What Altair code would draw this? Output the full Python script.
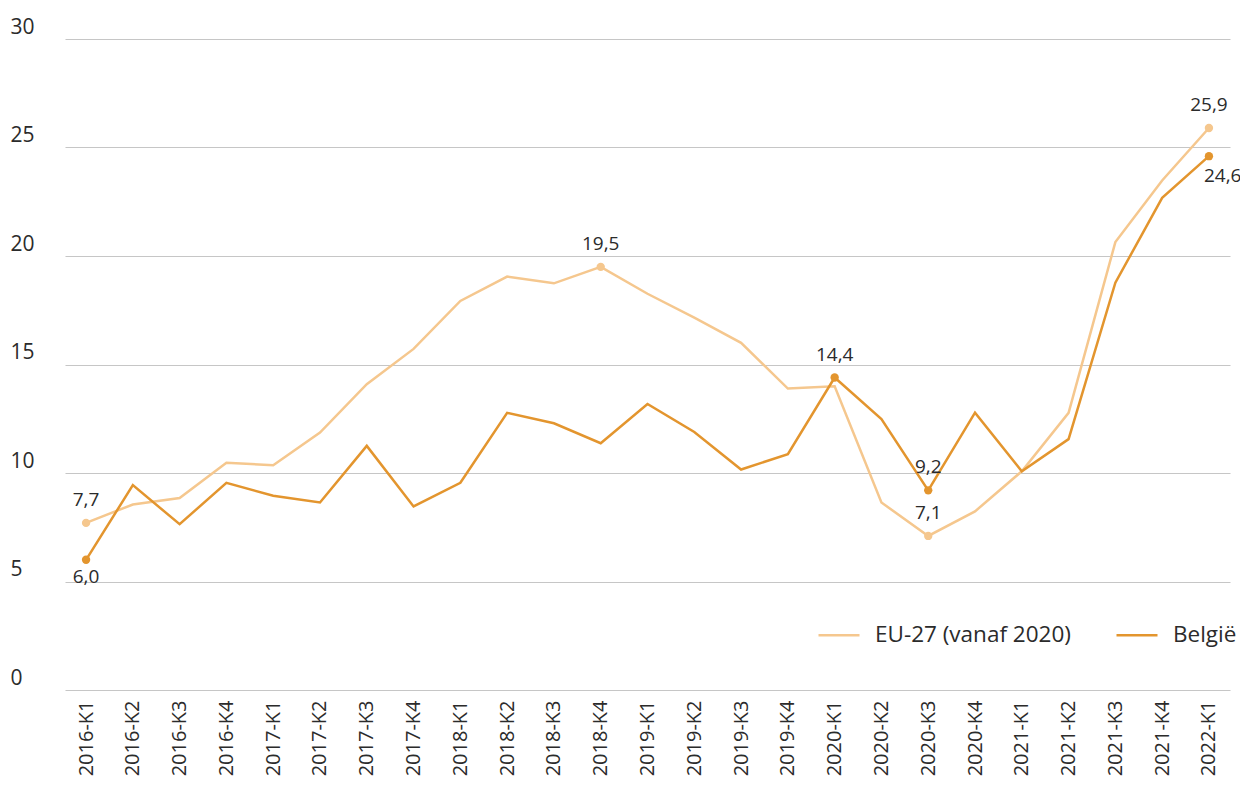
import altair as alt
import pandas as pd

quarters = ["2016-K1", "2016-K2", "2016-K3", "2016-K4",
            "2017-K1", "2017-K2", "2017-K3", "2017-K4",
            "2018-K1", "2018-K2", "2018-K3", "2018-K4",
            "2019-K1", "2019-K2", "2019-K3", "2019-K4",
            "2020-K1", "2020-K2", "2020-K3", "2020-K4",
            "2021-K1", "2021-K2", "2021-K3", "2021-K4",
            "2022-K1"]

eu27 = [7.7, 8.55, 8.85, 10.47, 10.36, 11.86, 14.09, 15.72,
        17.93, 19.05, 18.74, 19.5, 18.26, 17.16, 16.0, 13.89,
        14.0, 8.64, 7.1, 8.23, 10.08, 12.77, 20.64, 23.48,
        25.9]

belgie = [6.0, 9.44, 7.64, 9.55, 8.95, 8.64, 11.25, 8.46,
          9.55, 12.77, 12.29, 11.37, 13.18, 11.89, 10.16, 10.87,
          14.4, 12.48, 9.2, 12.78, 10.08, 11.56, 18.77, 22.68,
          24.6]

series_names = ["EU-27 (vanaf 2020)", "België"]
series_colors = ["#F5C78E", "#E3952E"]

# labelled points: (series, quarter)
labels_above = [("EU-27 (vanaf 2020)", "2016-K1"), ("EU-27 (vanaf 2020)", "2018-K4"),
                ("België", "2020-K1"), ("België", "2020-K3"),
                ("EU-27 (vanaf 2020)", "2020-K3"), ("EU-27 (vanaf 2020)", "2022-K1")]
labels_below = [("België", "2016-K1")]
labels_below_right = [("België", "2022-K1")]

rows = []
for name, vals in zip(series_names, [eu27, belgie]):
    for q, v in zip(quarters, vals):
        grp = ""
        if (name, q) in labels_above:
            grp = "above"
        elif (name, q) in labels_below:
            grp = "below"
        elif (name, q) in labels_below_right:
            grp = "belowright"
        rows.append({"kwartaal": q, "reeks": name, "waarde": v,
                     "label": f"{v:.1f}".replace(".", ","), "grp": grp})
df = pd.DataFrame(rows)

FONT = "Open Sans"
TXT = "#2b2b2b"

x = alt.X("kwartaal:N", sort=quarters, title=None,
          scale=alt.Scale(type="point", padding=0.45),
          axis=alt.Axis(labelAngle=-90, labelFontSize=20, labelFont=FONT,
                        labelColor=TXT, ticks=False, domain=False, grid=False,
                        labelPadding=10))
y = alt.Y("waarde:Q", title=None,
          scale=alt.Scale(domain=[0, 30], nice=False),
          axis=alt.Axis(values=[0, 5, 10, 15, 20, 25, 30], grid=True,
                        gridColor="#c6c6c6", gridWidth=1.2, ticks=False,
                        domain=False, labelAlign="left", labelBaseline="bottom",
                        labelPadding=55, labelFontSize=21, labelFont=FONT,
                        labelColor=TXT, labelOffset=-2))
color = alt.Color("reeks:N",
                  scale=alt.Scale(domain=series_names, range=series_colors),
                  legend=alt.Legend(title=None, orient="none", legendX=752,
                                    legendY=574, direction="horizontal",
                                    symbolType="stroke", symbolSize=1681,
                                    symbolStrokeWidth=2.5, labelFontSize=22.5,
                                    labelFont=FONT, labelColor=TXT,
                                    labelOffset=14, columnPadding=40,
                                    labelLimit=400))

base = alt.Chart(df)

lines = base.mark_line(strokeWidth=2.5).encode(x=x, y=y, color=color,
                                                order=alt.Order("reeks:N"))
points = base.transform_filter("datum.grp != ''").mark_circle(
    size=70, opacity=1).encode(x=x, y=y, color=alt.Color("reeks:N",
                                   scale=alt.Scale(domain=series_names,
                                                   range=series_colors),
                                   legend=None))

txt_above = base.transform_filter("datum.grp == 'above'").mark_text(
    baseline="alphabetic", dy=-17, fontSize=19, font=FONT, color=TXT).encode(
    x=x, y=y, text="label:N")
txt_below = base.transform_filter("datum.grp == 'below'").mark_text(
    baseline="top", dy=8, fontSize=19, font=FONT, color=TXT).encode(
    x=x, y=y, text="label:N")
txt_br = base.transform_filter("datum.grp == 'belowright'").mark_text(
    baseline="top", align="left", dx=-5, dy=11, fontSize=19, font=FONT,
    color=TXT).encode(x=x, y=y, text="label:N")

chart = alt.layer(lines, points, txt_above, txt_below, txt_br).properties(
    width=1165, height=651,
    autosize=alt.AutoSizeParams(type="none"),
    padding={"left": 57, "top": 31, "right": 10, "bottom": 90},
).configure(font=FONT).configure_view(strokeWidth=0, stroke="transparent")

chart.save("out.html", embed_options={"renderer": "svg", "actions": False})
